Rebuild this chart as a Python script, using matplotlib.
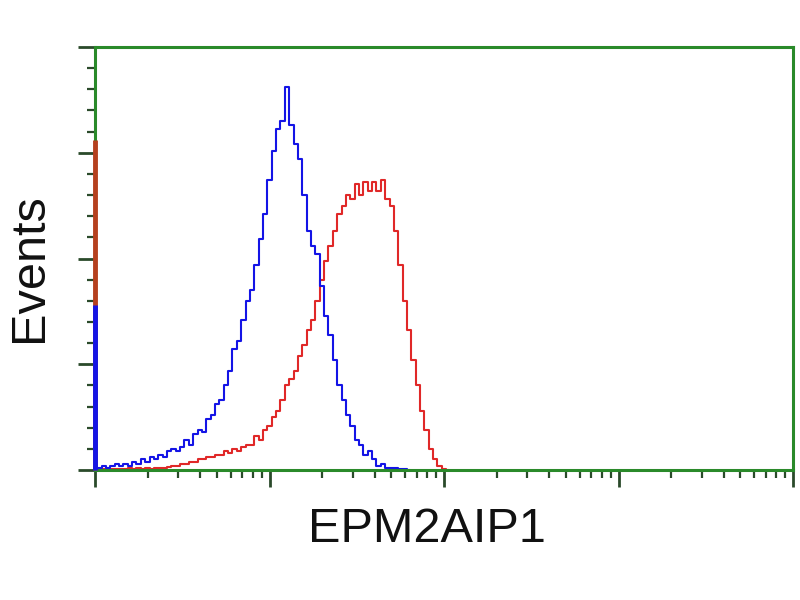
import numpy as np
import matplotlib
matplotlib.use("Agg")
import matplotlib.pyplot as plt
from matplotlib.ticker import LogLocator, MultipleLocator, NullFormatter

# Histogram counts, channels spaced 0.025 decade starting at 10**0.025
blue_counts = [1, 2, 1, 2, 3, 2, 3, 2, 4, 3, 5, 4, 6, 5, 7, 6, 9, 10, 9, 11,
               14, 12, 17, 19, 18, 24, 26, 31, 33, 40, 47, 57, 61, 71, 80, 85,
               97, 109, 121, 137, 151, 161, 165, 181, 163, 154, 147, 130, 113,
               106, 102, 87, 73, 64, 52, 40, 33, 26, 21, 14, 12, 7, 9, 5, 2, 3,
               1, 1, 1, 0.5, 0.5, 0]
red_counts = [0.5, 0.5, 0.5, 0.5, 0.5, 0.5, 0.5, 1, 0.5, 1, 0.5, 1, 0.5, 1, 1, 1,
              1.5, 2, 2, 3, 3, 4, 4, 5, 5, 6, 6, 7, 7, 9, 8, 10, 9, 11, 12, 12,
              16, 14, 19, 21, 25, 28, 33, 40, 43, 47, 54, 59, 66, 71, 80, 90, 99,
              106, 113, 121, 125, 130, 128, 135, 130, 136, 132, 136, 132, 137,
              128, 125, 113, 97, 80, 66, 52, 40, 28, 19, 10, 5, 2, 0.5, 0]
blue_edge = 78   # off-scale pile-up at the first channel
red_edge = 156
decade_step = 0.025

fig = plt.figure(figsize=(8, 6), dpi=100)
ax = fig.add_axes([95 / 800, 130 / 600, 698 / 800, 423 / 600])

bx = 10 ** (decade_step * np.arange(1, len(blue_counts) + 1))
rx = 10 ** (decade_step * np.arange(1, len(red_counts) + 1))

ax.plot(rx, red_counts, color="#e02828", lw=1.5, drawstyle="steps-mid")
ax.plot(bx, blue_counts, color="#1414e6", lw=1.5, drawstyle="steps-mid")
ax.vlines(1.0, 0, red_edge, color="#b5401e", lw=3.5, zorder=5, clip_on=False)
ax.vlines(1.0, 0, blue_edge, color="#1414e6", lw=3.5, zorder=6, clip_on=False)

ax.set_xscale("log")
ax.set_xlim(1, 1e4)
ax.set_ylim(0, 200)
ax.xaxis.set_major_locator(LogLocator(base=10, numticks=10))
ax.xaxis.set_minor_locator(LogLocator(base=10, subs=np.arange(2, 10), numticks=100))
ax.xaxis.set_major_formatter(NullFormatter())
ax.xaxis.set_minor_formatter(NullFormatter())
ax.yaxis.set_major_locator(MultipleLocator(50))
ax.yaxis.set_minor_locator(MultipleLocator(10))
ax.yaxis.set_major_formatter(NullFormatter())

green = "#2a8a2a"
for s in ax.spines.values():
    s.set_color(green)
    s.set_linewidth(2.2)
ax.tick_params(which="major", direction="out", length=12, width=2, color="#2a4a2a")
ax.tick_params(which="minor", direction="out", length=6, width=1.6, color="#2a4a2a")

fig.text(427 / 800, 1 - 530 / 600, "EPM2AIP1", ha="center", va="center",
         fontsize=35, family="Liberation Sans", color="#111111")
fig.text(30 / 800, 1 - 268 / 600, "Events", ha="center", va="center",
         rotation=90, fontsize=35, family="Liberation Sans", color="#111111")

fig.savefig("out.png", dpi=100, facecolor="white")
